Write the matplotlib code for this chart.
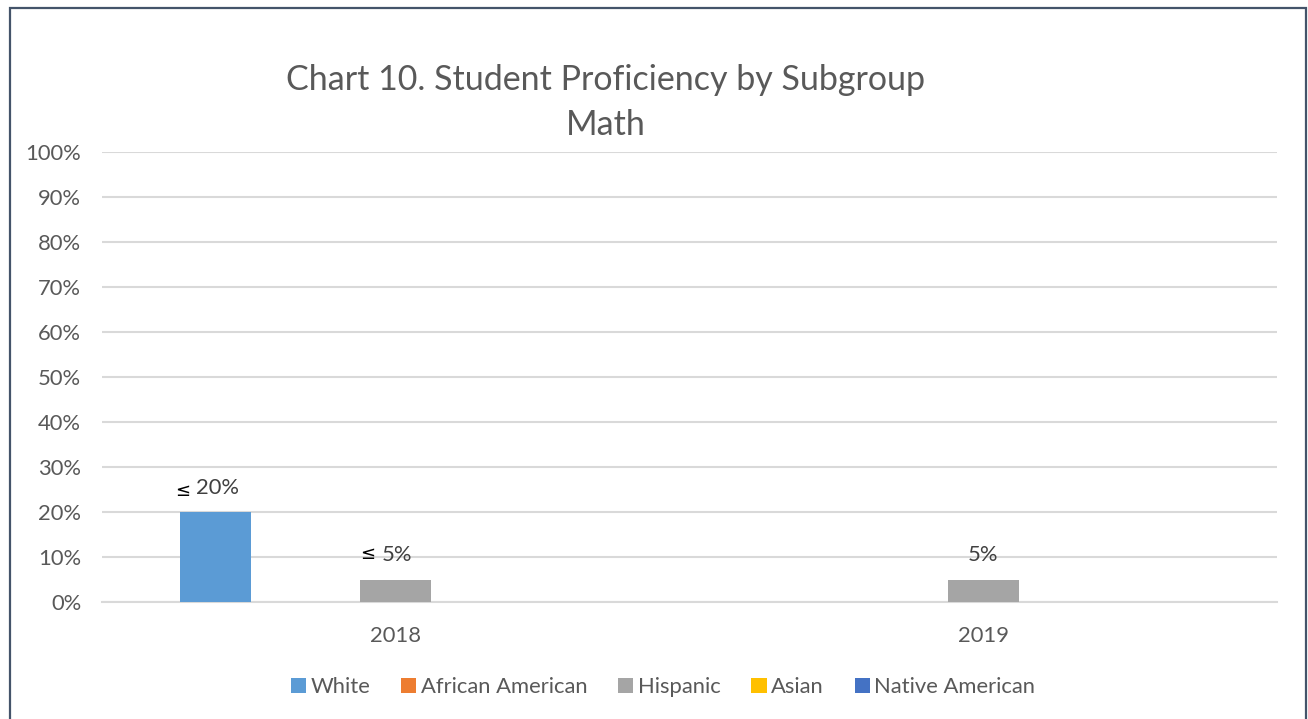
import matplotlib
matplotlib.use("Agg")
import matplotlib.pyplot as plt
from matplotlib.patches import Rectangle
import numpy as np

plt.rcParams['font.family'] = ['Lato', 'DejaVu Sans']

categories = ["2018", "2019"]
series_names = ["White", "African American", "Hispanic", "Asian", "Native American"]
white = [20, 0]
african_american = [0, 0]
hispanic = [5, 5]
asian = [0, 0]
native_american = [0, 0]
colors = ["#5B9BD5", "#ED7D31", "#A5A5A5", "#FFC000", "#4472C4"]
# data labels: (series index, category index, prefix, value text)
labels = [(0, 0, "≤", "20%"), (2, 0, "≤", "5%"), (2, 1, "", "5%")]
yticks = [0, 10, 20, 30, 40, 50, 60, 70, 80, 90, 100]

W, H = 1308, 719
fig = plt.figure(figsize=(W / 100, H / 100), dpi=100)
ax = fig.add_axes([102 / W, 1 - 602 / H, (1277 - 102) / W, (602 - 152) / H])

text_color = "#595959"
label_color = "#404040"
grid_color = "#D9D9D9"
fs = 15.8

all_series = [white, african_american, hispanic, asian, native_american]
x = np.arange(len(categories))
slot = 90 / 587.5
bw = 71 / 587.5
for i, (name, vals, c) in enumerate(zip(series_names, all_series, colors)):
    ax.bar(x + (i - 2) * slot, vals, width=bw, color=c, label=name, zorder=3)

ax.set_xlim(-0.5, 1.5)
ax.set_ylim(0, 100)
ax.set_yticks(yticks)
ax.set_yticklabels([f"{t}%" for t in yticks])
ax.set_xticks(x)
ax.set_xticklabels(categories)
ax.tick_params(axis='both', length=0, labelsize=fs, labelcolor=text_color)
ax.tick_params(axis='y', pad=15)
ax.tick_params(axis='x', pad=17)
for s in ["top", "right", "left"]:
    ax.spines[s].set_visible(False)
ax.spines["bottom"].set_color(grid_color)
ax.spines["bottom"].set_linewidth(1.5)
ax.grid(axis='y', color=grid_color, linewidth=1.5, zorder=0)
ax.set_axisbelow(True)

for si, ci, prefix, txt in labels:
    xv = x[ci] + (si - 2) * slot
    yv = all_series[si][ci]
    if prefix:
        if yv >= 10:
            px, py, tx = -18.3, 11.5, -14.4
        else:
            px, py, tx = -14.6, 15, -10
        ax.annotate(prefix, (xv, yv), xytext=(px, py), textcoords="offset points",
                    ha="right", va="baseline", fontsize=13, color="black",
                    family="DejaVu Sans")
        ax.annotate(txt, (xv, yv), xytext=(tx, 13), textcoords="offset points",
                    ha="left", va="baseline", fontsize=fs, color=label_color)
    else:
        ax.annotate(txt, (xv, yv), xytext=(0, 13), textcoords="offset points",
                    ha="center", va="baseline", fontsize=fs, color=label_color)

fig.text(606 / W, 1 - 90 / H, "Chart 10. Student Proficiency by Subgroup",
         ha="center", va="baseline", fontsize=24.5, color=text_color)
fig.text(606 / W, 1 - 135 / H, "Math",
         ha="center", va="baseline", fontsize=24.5, color=text_color)

leg = fig.legend(loc="center", bbox_to_anchor=(663 / W, 1 - 687 / H), ncol=5,
                 frameon=False, fontsize=fs, handlelength=0.7, handleheight=0.7,
                 handletextpad=0.2, columnspacing=1.4)
for t in leg.get_texts():
    t.set_color(text_color)

border = Rectangle((9.5 / W, -0.05), (1305.5 - 9.5) / W, 1 - 7.5 / H + 0.05,
                   transform=fig.transFigure, fill=False, edgecolor="#44546A",
                   linewidth=1.6, clip_on=False)
fig.patches.append(border)

fig.savefig("out.png", dpi=100)
